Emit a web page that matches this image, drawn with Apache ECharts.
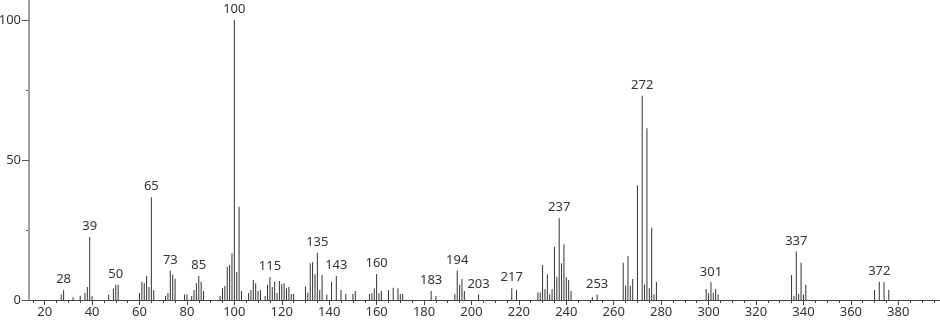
<!DOCTYPE html>
<html>
<head>
<meta charset="utf-8">
<script src="https://cdn.jsdelivr.net/npm/echarts@6/dist/echarts.min.js"></script>
<style>html,body{margin:0;padding:0;background:#fff}#c{width:940px;height:322px}</style>
</head>
<body>
<div id="c"></div>
<script>
var mz = [27,28,32,35,37,38,39,40,47,49,50,51,60,61,62,63,64,65,66,71,72,73,74,75,79,80,82,83,84,85,86,87,94,95,96,97,98,99,100,101,102,103,106,107,108,109,110,111,113,114,115,116,117,118,119,120,121,122,123,124,125,130,131,132,133,134,135,136,137,139,141,143,145,147,150,151,157,158,159,160,161,162,165,167,169,170,171,183,185,193,194,195,196,197,203,217,219,228,229,230,231,232,233,234,235,236,237,238,239,240,241,242,251,253,264,265,266,267,268,270,272,273,274,275,276,277,278,299,300,301,302,303,304,335,336,337,338,339,340,341,370,372,374,376];
var intensity = [2,3.6,1,1.5,2.5,4.6,22.5,1.4,1.9,4,5.4,5.4,2.5,6.5,6,8.6,4.6,36.7,3.6,1.4,2.5,10.4,9,7.6,2,2,1.4,3.6,6,8.6,6.5,3.2,1.4,4.2,5,11.9,12.5,16.7,100,10,33.3,3.2,2.5,3.6,7.1,6,3.2,3.6,1.4,5.4,8.2,4.6,6.5,2.5,6.8,5.7,6,4.2,4.6,2.1,2.1,4.8,2.7,13.1,13.5,9.2,16.9,3.6,8.9,1.9,6.5,8.6,3.6,2.1,2.1,3.2,2.1,2.4,4.2,9.3,2.4,3.2,3.6,4.4,4.2,2.1,2.1,3.2,1.4,2.1,10.5,5.4,7.5,3.2,2,4.2,3.6,2.7,2.7,12.5,3.8,9.2,2,3.8,19,8.3,29.2,13.1,19.9,8.1,7.1,3.2,1,2,13.3,5.1,15.7,5.1,7.5,41,72.9,5.5,61.3,4.2,25.8,2,6.4,3.9,2.4,6.3,2.6,3.9,2,8.9,1.4,17.3,2.1,13.3,2,5.4,3.6,6.5,6.3,3.6];
var labeled = [28,39,50,65,73,85,100,115,135,143,160,183,194,203,217,237,253,272,301,337,372];
var xMajorTicks = [20,40,60,80,100,120,140,160,180,200,220,240,260,280,300,320,340,360,380];
var yMajorTicks = [0,50,100];
var yMinorTicks = [25,75];

var xMinorTicks = [];
for (var t = 15; t <= 395; t += 5) xMinorTicks.push(t);

var data = mz.map(function (m, i) {
  var item = { value: [m, intensity[i]] };
  if (labeled.indexOf(m) >= 0) item.label = { show: true };
  return item;
});

var font = 'Noto Sans';
var chart = echarts.init(document.getElementById('c'), null, { renderer: 'canvas' });
chart.setOption({
  animation: false,
  grid: { left: 29, right: 0, top: 0, bottom: 22, containLabel: false, outerBoundsMode: 'none' },
  xAxis: [{
    type: 'value', min: 13.4, max: 397.6,
    axisLine: { show: true, lineStyle: { color: '#444', width: 1 } },
    axisTick: { show: true, customValues: xMinorTicks, length: 3, lineStyle: { color: '#444' } },
    axisLabel: { show: false },
    splitLine: { show: false }
  }, {
    type: 'value', min: 13.4, max: 397.6, position: 'bottom',
    axisLine: { show: false },
    axisTick: { show: true, customValues: xMajorTicks, length: 5, lineStyle: { color: '#444' } },
    axisLabel: { show: true, customValues: xMajorTicks, color: '#333', fontSize: 13, fontFamily: font, margin: 6 },
    splitLine: { show: false }
  }],
  yAxis: [{
    type: 'value', min: 0, max: 107.1, z: 5,
    axisLine: { show: true, lineStyle: { color: '#a0a0a0', width: 2 } },
    axisTick: { show: true, customValues: yMajorTicks, length: 7, lineStyle: { color: '#555' } },
    axisLabel: { show: true, customValues: yMajorTicks, color: '#333', fontSize: 13, fontFamily: font, margin: 8 },
    splitLine: { show: false }
  }, {
    type: 'value', min: 0, max: 107.1, position: 'left',
    axisLine: { show: false },
    axisTick: { show: true, customValues: yMinorTicks, length: 3, lineStyle: { color: '#555' } },
    axisLabel: { show: false },
    splitLine: { show: false }
  }],
  series: [{
    type: 'bar',
    xAxisIndex: 0, yAxisIndex: 0,
    barWidth: 1,
    itemStyle: { color: '#333' },
    label: {
      show: false, position: 'top', distance: 4,
      color: '#333', fontSize: 13, fontFamily: font,
      formatter: function (p) { return p.value[0]; }
    },
    data: data
  }]
});
</script>
</body>
</html>
